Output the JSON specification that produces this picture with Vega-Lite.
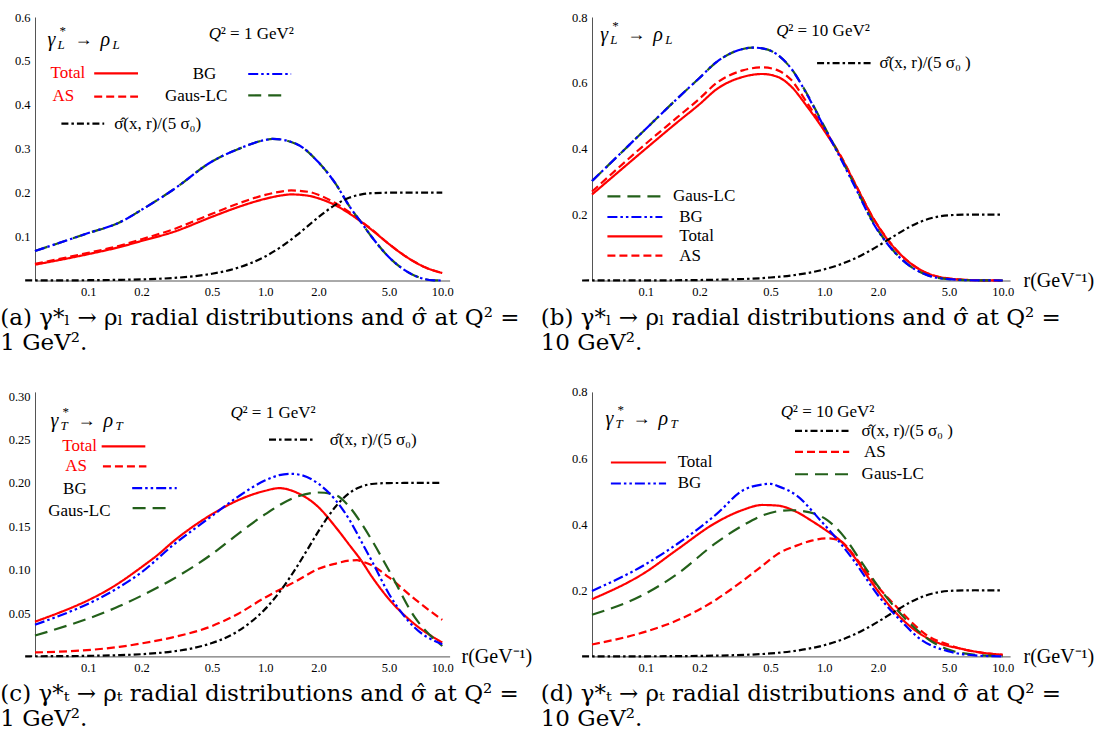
{
  "$schema": "https://vega.github.io/schema/vega-lite/v6.json",
  "autosize": {"type": "pad"},
  "padding": {"left": 0, "top": 11, "right": 0, "bottom": 0},
  "background": "white",
  "columns": 2,
  "spacing": {"row": 110.9, "column": 142},
  "bounds": "flush",
  "align": "each",
  "config": {
    "view": {"stroke": null},
    "legend": {"disable": true},
    "text": {"font": "Liberation Serif", "align": "left", "baseline": "alphabetic", "color": "black"},
    "axis": {"grid": false, "tickSize": 0, "labelFont": "Liberation Serif", "labelFontSize": 12.5, "labelColor": "black", "domainColor": "#555", "tickColor": "#555", "labelPadding": 5, "labelOverlap": false, "labelFlush": false, "labelBound": false, "title": null}
  },
  "datasets": {
    "a": [
      {"series":"Total","r":0.05,"value":0.036},{"series":"Total","r":0.1,"value":0.060},{"series":"Total","r":0.15,"value":0.076},{"series":"Total","r":0.2,"value":0.090},{"series":"Total","r":0.3,"value":0.110},{"series":"Total","r":0.5,"value":0.145},{"series":"Total","r":0.7,"value":0.167},{"series":"Total","r":1,"value":0.186},{"series":"Total","r":1.25,"value":0.194},{"series":"Total","r":1.4,"value":0.196},{"series":"Total","r":1.75,"value":0.193},{"series":"Total","r":2,"value":0.187},{"series":"Total","r":2.5,"value":0.171},{"series":"Total","r":3,"value":0.152},{"series":"Total","r":3.5,"value":0.133},{"series":"Total","r":4,"value":0.115},{"series":"Total","r":5,"value":0.083},{"series":"Total","r":6,"value":0.059},{"series":"Total","r":7,"value":0.042},{"series":"Total","r":8,"value":0.030},{"series":"Total","r":10,"value":0.017},
      {"series":"AS","r":0.05,"value":0.038},{"series":"AS","r":0.1,"value":0.063},{"series":"AS","r":0.15,"value":0.079},{"series":"AS","r":0.2,"value":0.094},{"series":"AS","r":0.3,"value":0.116},{"series":"AS","r":0.5,"value":0.152},{"series":"AS","r":0.7,"value":0.175},{"series":"AS","r":1,"value":0.195},{"series":"AS","r":1.25,"value":0.203},{"series":"AS","r":1.4,"value":0.205},{"series":"AS","r":1.75,"value":0.202},{"series":"AS","r":2,"value":0.195},{"series":"AS","r":2.5,"value":0.176},{"series":"AS","r":3,"value":0.155},{"series":"AS","r":3.5,"value":0.134},{"series":"AS","r":4,"value":0.116},{"series":"AS","r":5,"value":0.083},{"series":"AS","r":6,"value":0.059},{"series":"AS","r":7,"value":0.042},{"series":"AS","r":8,"value":0.030},{"series":"AS","r":10,"value":0.017},
      {"series":"Gaus-LC","r":0.05,"value":0.067},{"series":"Gaus-LC","r":0.1,"value":0.108},{"series":"Gaus-LC","r":0.15,"value":0.132},{"series":"Gaus-LC","r":0.2,"value":0.161},{"series":"Gaus-LC","r":0.3,"value":0.206},{"series":"Gaus-LC","r":0.5,"value":0.271},{"series":"Gaus-LC","r":0.7,"value":0.299},{"series":"Gaus-LC","r":1,"value":0.320},{"series":"Gaus-LC","r":1.1,"value":0.3226},{"series":"Gaus-LC","r":1.5,"value":0.311},{"series":"Gaus-LC","r":2,"value":0.269},{"series":"Gaus-LC","r":2.5,"value":0.220},{"series":"Gaus-LC","r":3,"value":0.168},{"series":"Gaus-LC","r":3.5,"value":0.131},{"series":"Gaus-LC","r":4,"value":0.099},{"series":"Gaus-LC","r":5,"value":0.053},{"series":"Gaus-LC","r":6,"value":0.026},{"series":"Gaus-LC","r":7,"value":0.011},{"series":"Gaus-LC","r":8,"value":0.003},{"series":"Gaus-LC","r":9,"value":0.0005},{"series":"Gaus-LC","r":10,"value":0.0},
      {"series":"BG","r":0.05,"value":0.067},{"series":"BG","r":0.1,"value":0.108},{"series":"BG","r":0.15,"value":0.132},{"series":"BG","r":0.2,"value":0.161},{"series":"BG","r":0.3,"value":0.206},{"series":"BG","r":0.5,"value":0.271},{"series":"BG","r":0.7,"value":0.299},{"series":"BG","r":1,"value":0.320},{"series":"BG","r":1.1,"value":0.3226},{"series":"BG","r":1.5,"value":0.311},{"series":"BG","r":2,"value":0.269},{"series":"BG","r":2.5,"value":0.220},{"series":"BG","r":3,"value":0.168},{"series":"BG","r":3.5,"value":0.131},{"series":"BG","r":4,"value":0.099},{"series":"BG","r":5,"value":0.053},{"series":"BG","r":6,"value":0.026},{"series":"BG","r":7,"value":0.011},{"series":"BG","r":8,"value":0.003},{"series":"BG","r":9,"value":0.0005},{"series":"BG","r":10,"value":0.0},
      {"series":"sigma","r":0.044,"value":0.00012},{"series":"sigma","r":0.05,"value":0.00016},{"series":"sigma","r":0.1,"value":0.00064},{"series":"sigma","r":0.15,"value":0.00144},{"series":"sigma","r":0.2,"value":0.00254},{"series":"sigma","r":0.3,"value":0.00568},{"series":"sigma","r":0.4,"value":0.00998},{"series":"sigma","r":0.5,"value":0.01538},{"series":"sigma","r":0.7,"value":0.0290},{"series":"sigma","r":1,"value":0.0548},{"series":"sigma","r":1.25,"value":0.0787},{"series":"sigma","r":1.5,"value":0.1026},{"series":"sigma","r":1.75,"value":0.1249},{"series":"sigma","r":2,"value":0.1444},{"series":"sigma","r":2.5,"value":0.1729},{"series":"sigma","r":3,"value":0.1888},{"series":"sigma","r":3.5,"value":0.1960},{"series":"sigma","r":4,"value":0.1988},{"series":"sigma","r":5,"value":0.1999},{"series":"sigma","r":7,"value":0.2},{"series":"sigma","r":10,"value":0.2}
    ],
    "b": [
      {"series":"Total","r":0.05,"value":0.261},{"series":"Total","r":0.1,"value":0.40},{"series":"Total","r":0.15,"value":0.48},{"series":"Total","r":0.2,"value":0.535},{"series":"Total","r":0.25,"value":0.581},{"series":"Total","r":0.35,"value":0.618},{"series":"Total","r":0.45,"value":0.627},{"series":"Total","r":0.55,"value":0.618},{"series":"Total","r":0.65,"value":0.59},{"series":"Total","r":0.8,"value":0.529},{"series":"Total","r":1,"value":0.455},{"series":"Total","r":1.25,"value":0.372},{"series":"Total","r":1.5,"value":0.29},{"series":"Total","r":1.9,"value":0.185},{"series":"Total","r":2.35,"value":0.113},{"series":"Total","r":3,"value":0.055},{"series":"Total","r":3.75,"value":0.023},{"series":"Total","r":5,"value":0.006},{"series":"Total","r":7,"value":0.001},{"series":"Total","r":10,"value":0.0},
      {"series":"AS","r":0.05,"value":0.27},{"series":"AS","r":0.1,"value":0.415},{"series":"AS","r":0.15,"value":0.495},{"series":"AS","r":0.2,"value":0.552},{"series":"AS","r":0.25,"value":0.60},{"series":"AS","r":0.35,"value":0.638},{"series":"AS","r":0.45,"value":0.647},{"series":"AS","r":0.55,"value":0.638},{"series":"AS","r":0.65,"value":0.61},{"series":"AS","r":0.8,"value":0.54},{"series":"AS","r":1,"value":0.46},{"series":"AS","r":1.25,"value":0.374},{"series":"AS","r":1.5,"value":0.291},{"series":"AS","r":1.9,"value":0.186},{"series":"AS","r":2.35,"value":0.114},{"series":"AS","r":3,"value":0.055},{"series":"AS","r":3.75,"value":0.023},{"series":"AS","r":5,"value":0.006},{"series":"AS","r":7,"value":0.001},{"series":"AS","r":10,"value":0.0},
      {"series":"Gaus-LC","r":0.05,"value":0.302},{"series":"Gaus-LC","r":0.1,"value":0.46},{"series":"Gaus-LC","r":0.15,"value":0.552},{"series":"Gaus-LC","r":0.2,"value":0.615},{"series":"Gaus-LC","r":0.25,"value":0.664},{"series":"Gaus-LC","r":0.3,"value":0.690},{"series":"Gaus-LC","r":0.35,"value":0.703},{"series":"Gaus-LC","r":0.4,"value":0.707},{"series":"Gaus-LC","r":0.45,"value":0.705},{"series":"Gaus-LC","r":0.55,"value":0.685},{"series":"Gaus-LC","r":0.65,"value":0.645},{"series":"Gaus-LC","r":0.8,"value":0.567},{"series":"Gaus-LC","r":1,"value":0.468},{"series":"Gaus-LC","r":1.25,"value":0.368},{"series":"Gaus-LC","r":1.5,"value":0.283},{"series":"Gaus-LC","r":1.9,"value":0.172},{"series":"Gaus-LC","r":2.35,"value":0.101},{"series":"Gaus-LC","r":3,"value":0.045},{"series":"Gaus-LC","r":3.75,"value":0.017},{"series":"Gaus-LC","r":5,"value":0.004},{"series":"Gaus-LC","r":7,"value":0.0005},{"series":"Gaus-LC","r":10,"value":0.0},
      {"series":"BG","r":0.05,"value":0.302},{"series":"BG","r":0.1,"value":0.46},{"series":"BG","r":0.15,"value":0.552},{"series":"BG","r":0.2,"value":0.615},{"series":"BG","r":0.25,"value":0.664},{"series":"BG","r":0.3,"value":0.690},{"series":"BG","r":0.35,"value":0.703},{"series":"BG","r":0.4,"value":0.707},{"series":"BG","r":0.45,"value":0.705},{"series":"BG","r":0.55,"value":0.685},{"series":"BG","r":0.65,"value":0.645},{"series":"BG","r":0.8,"value":0.565},{"series":"BG","r":1,"value":0.465},{"series":"BG","r":1.25,"value":0.365},{"series":"BG","r":1.5,"value":0.28},{"series":"BG","r":1.9,"value":0.17},{"series":"BG","r":2.35,"value":0.10},{"series":"BG","r":3,"value":0.045},{"series":"BG","r":3.75,"value":0.017},{"series":"BG","r":5,"value":0.004},{"series":"BG","r":7,"value":0.0005},{"series":"BG","r":10,"value":0.0},
      {"series":"sigma","r":0.044,"value":0.00007},{"series":"sigma","r":0.05,"value":0.00009},{"series":"sigma","r":0.1,"value":0.00037},{"series":"sigma","r":0.2,"value":0.00147},{"series":"sigma","r":0.3,"value":0.0033},{"series":"sigma","r":0.5,"value":0.00904},{"series":"sigma","r":0.7,"value":0.01734},{"series":"sigma","r":1,"value":0.0338},{"series":"sigma","r":1.25,"value":0.0502},{"series":"sigma","r":1.5,"value":0.068},{"series":"sigma","r":1.75,"value":0.0865},{"series":"sigma","r":2,"value":0.1046},{"series":"sigma","r":2.5,"value":0.1371},{"series":"sigma","r":3,"value":0.1622},{"series":"sigma","r":3.5,"value":0.1793},{"series":"sigma","r":4,"value":0.1896},{"series":"sigma","r":5,"value":0.1980},{"series":"sigma","r":6,"value":0.1997},{"series":"sigma","r":7,"value":0.2},{"series":"sigma","r":10,"value":0.2}
    ],
    "c": [
      {"series":"Total","r":0.05,"value":0.040},{"series":"Total","r":0.15,"value":0.085},{"series":"Total","r":0.2,"value":0.103},{"series":"Total","r":0.25,"value":0.118},{"series":"Total","r":0.3,"value":0.132},{"series":"Total","r":0.5,"value":0.164},{"series":"Total","r":0.7,"value":0.180},{"series":"Total","r":1,"value":0.191},{"series":"Total","r":1.2,"value":0.194},{"series":"Total","r":1.5,"value":0.189},{"series":"Total","r":2,"value":0.172},{"series":"Total","r":2.5,"value":0.149},{"series":"Total","r":3,"value":0.128},{"series":"Total","r":3.5,"value":0.110},{"series":"Total","r":4,"value":0.092},{"series":"Total","r":5,"value":0.066},{"series":"Total","r":7,"value":0.037},{"series":"Total","r":10,"value":0.016},
      {"series":"AS","r":0.05,"value":0.0045},{"series":"AS","r":0.15,"value":0.011},{"series":"AS","r":0.2,"value":0.015},{"series":"AS","r":0.3,"value":0.022},{"series":"AS","r":0.5,"value":0.035},{"series":"AS","r":0.7,"value":0.049},{"series":"AS","r":1,"value":0.068},{"series":"AS","r":1.5,"value":0.087},{"series":"AS","r":2,"value":0.101},{"series":"AS","r":2.5,"value":0.107},{"series":"AS","r":3,"value":0.1105},{"series":"AS","r":3.3,"value":0.111},{"series":"AS","r":3.5,"value":0.1095},{"series":"AS","r":4,"value":0.105},{"series":"AS","r":5,"value":0.091},{"series":"AS","r":7,"value":0.066},{"series":"AS","r":10,"value":0.042},
      {"series":"Gaus-LC","r":0.05,"value":0.024},{"series":"Gaus-LC","r":0.15,"value":0.058},{"series":"Gaus-LC","r":0.2,"value":0.070},{"series":"Gaus-LC","r":0.3,"value":0.089},{"series":"Gaus-LC","r":0.5,"value":0.118},{"series":"Gaus-LC","r":0.7,"value":0.141},{"series":"Gaus-LC","r":1,"value":0.164},{"series":"Gaus-LC","r":1.5,"value":0.184},{"series":"Gaus-LC","r":2,"value":0.189},{"series":"Gaus-LC","r":2.5,"value":0.186},{"series":"Gaus-LC","r":3,"value":0.172},{"series":"Gaus-LC","r":3.5,"value":0.153},{"series":"Gaus-LC","r":4,"value":0.134},{"series":"Gaus-LC","r":5,"value":0.099},{"series":"Gaus-LC","r":7,"value":0.045},{"series":"Gaus-LC","r":10,"value":0.012},
      {"series":"BG","r":0.05,"value":0.0365},{"series":"BG","r":0.15,"value":0.080},{"series":"BG","r":0.2,"value":0.097},{"series":"BG","r":0.3,"value":0.128},{"series":"BG","r":0.5,"value":0.162},{"series":"BG","r":0.7,"value":0.184},{"series":"BG","r":1,"value":0.203},{"series":"BG","r":1.2,"value":0.209},{"series":"BG","r":1.4,"value":0.2105},{"series":"BG","r":1.6,"value":0.209},{"series":"BG","r":2,"value":0.199},{"series":"BG","r":2.5,"value":0.180},{"series":"BG","r":3,"value":0.157},{"series":"BG","r":3.5,"value":0.132},{"series":"BG","r":4,"value":0.110},{"series":"BG","r":5,"value":0.072},{"series":"BG","r":7,"value":0.033},{"series":"BG","r":10,"value":0.014},
      {"series":"sigma","r":0.044,"value":0.00012},{"series":"sigma","r":0.05,"value":0.00016},{"series":"sigma","r":0.1,"value":0.00064},{"series":"sigma","r":0.15,"value":0.00144},{"series":"sigma","r":0.2,"value":0.00254},{"series":"sigma","r":0.3,"value":0.00568},{"series":"sigma","r":0.4,"value":0.00998},{"series":"sigma","r":0.5,"value":0.01538},{"series":"sigma","r":0.7,"value":0.0290},{"series":"sigma","r":1,"value":0.0548},{"series":"sigma","r":1.25,"value":0.0787},{"series":"sigma","r":1.5,"value":0.1026},{"series":"sigma","r":1.75,"value":0.1249},{"series":"sigma","r":2,"value":0.1444},{"series":"sigma","r":2.5,"value":0.1729},{"series":"sigma","r":3,"value":0.1888},{"series":"sigma","r":3.5,"value":0.1960},{"series":"sigma","r":4,"value":0.1988},{"series":"sigma","r":5,"value":0.1999},{"series":"sigma","r":7,"value":0.2},{"series":"sigma","r":10,"value":0.2}
    ],
    "d": [
      {"series":"Total","r":0.05,"value":0.173},{"series":"Total","r":0.1,"value":0.255},{"series":"Total","r":0.15,"value":0.323},{"series":"Total","r":0.25,"value":0.406},{"series":"Total","r":0.35,"value":0.443},{"series":"Total","r":0.45,"value":0.458},{"series":"Total","r":0.55,"value":0.456},{"series":"Total","r":0.7,"value":0.437},{"series":"Total","r":0.85,"value":0.41},{"series":"Total","r":1,"value":0.385},{"series":"Total","r":1.28,"value":0.341},{"series":"Total","r":1.5,"value":0.295},{"series":"Total","r":1.81,"value":0.23},{"series":"Total","r":2.44,"value":0.14},{"series":"Total","r":3.43,"value":0.069},{"series":"Total","r":4.5,"value":0.038},{"series":"Total","r":5.75,"value":0.024},{"series":"Total","r":7.5,"value":0.012},{"series":"Total","r":10,"value":0.005},
      {"series":"AS","r":0.05,"value":0.036},{"series":"AS","r":0.1,"value":0.075},{"series":"AS","r":0.15,"value":0.109},{"series":"AS","r":0.25,"value":0.173},{"series":"AS","r":0.35,"value":0.229},{"series":"AS","r":0.45,"value":0.274},{"series":"AS","r":0.55,"value":0.310},{"series":"AS","r":0.7,"value":0.335},{"series":"AS","r":0.85,"value":0.35},{"series":"AS","r":1.05,"value":0.357},{"series":"AS","r":1.2,"value":0.352},{"series":"AS","r":1.59,"value":0.281},{"series":"AS","r":2,"value":0.21},{"series":"AS","r":2.44,"value":0.160},{"series":"AS","r":3,"value":0.11},{"series":"AS","r":3.75,"value":0.064},{"series":"AS","r":5,"value":0.035},{"series":"AS","r":5.75,"value":0.024},{"series":"AS","r":7,"value":0.014},{"series":"AS","r":10,"value":0.005},
      {"series":"Gaus-LC","r":0.05,"value":0.126},{"series":"Gaus-LC","r":0.1,"value":0.19},{"series":"Gaus-LC","r":0.15,"value":0.249},{"series":"Gaus-LC","r":0.25,"value":0.345},{"series":"Gaus-LC","r":0.35,"value":0.396},{"series":"Gaus-LC","r":0.45,"value":0.426},{"series":"Gaus-LC","r":0.55,"value":0.439},{"series":"Gaus-LC","r":0.65,"value":0.442},{"series":"Gaus-LC","r":0.75,"value":0.44},{"series":"Gaus-LC","r":1.04,"value":0.412},{"series":"Gaus-LC","r":1.3,"value":0.36},{"series":"Gaus-LC","r":1.59,"value":0.291},{"series":"Gaus-LC","r":2.15,"value":0.19},{"series":"Gaus-LC","r":3.02,"value":0.10},{"series":"Gaus-LC","r":4,"value":0.045},{"series":"Gaus-LC","r":5,"value":0.02},{"series":"Gaus-LC","r":7,"value":0.005},{"series":"Gaus-LC","r":10,"value":0.001},
      {"series":"BG","r":0.05,"value":0.198},{"series":"BG","r":0.1,"value":0.279},{"series":"BG","r":0.15,"value":0.340},{"series":"BG","r":0.25,"value":0.431},{"series":"BG","r":0.35,"value":0.502},{"series":"BG","r":0.45,"value":0.52},{"series":"BG","r":0.5,"value":0.522},{"series":"BG","r":0.55,"value":0.515},{"series":"BG","r":0.7,"value":0.487},{"series":"BG","r":0.95,"value":0.412},{"series":"BG","r":1.2,"value":0.35},{"series":"BG","r":1.46,"value":0.291},{"series":"BG","r":2,"value":0.185},{"series":"BG","r":2.66,"value":0.11},{"series":"BG","r":3.5,"value":0.05},{"series":"BG","r":5,"value":0.015},{"series":"BG","r":7,"value":0.003},{"series":"BG","r":10,"value":0.0},
      {"series":"sigma","r":0.044,"value":0.00007},{"series":"sigma","r":0.05,"value":0.00009},{"series":"sigma","r":0.1,"value":0.00037},{"series":"sigma","r":0.2,"value":0.00147},{"series":"sigma","r":0.3,"value":0.0033},{"series":"sigma","r":0.5,"value":0.00904},{"series":"sigma","r":0.7,"value":0.01734},{"series":"sigma","r":1,"value":0.0338},{"series":"sigma","r":1.25,"value":0.0502},{"series":"sigma","r":1.5,"value":0.068},{"series":"sigma","r":1.75,"value":0.0865},{"series":"sigma","r":2,"value":0.1046},{"series":"sigma","r":2.5,"value":0.1371},{"series":"sigma","r":3,"value":0.1622},{"series":"sigma","r":3.5,"value":0.1793},{"series":"sigma","r":4,"value":0.1896},{"series":"sigma","r":5,"value":0.1980},{"series":"sigma","r":6,"value":0.1997},{"series":"sigma","r":7,"value":0.2},{"series":"sigma","r":10,"value":0.2}
    ]
  },
  "concat": [
    {
      "width": 414.6, "height": 263.5,
      "title": {"text": ["(a) γ*ₗ → ρₗ radial distributions and σ̂ at Q² =", "1 GeV²."], "orient": "bottom", "anchor": "start", "frame": "group", "dx": -34.7, "offset": 9, "font": "DejaVu Serif", "fontSize": 23, "fontWeight": "normal", "lineHeight": 25, "color": "black", "baseline": "top"},
      "resolve": {"axis": {"y": "independent"}},
      "layer": [
        {
          "data": {"name": "a"},
          "mark": {"type": "line", "strokeWidth": 2.2, "interpolate": "monotone"},
          "encoding": {
            "x": {"field": "r", "type": "quantitative", "scale": {"type": "log", "domain": [0.05, 11], "nice": false},
              "axis": {"labelOverlap": false, "values": [0.06,0.07,0.08,0.09,0.1,0.2,0.3,0.4,0.5,0.6,0.7,0.8,0.9,1,2,3,4,5,6,7,8,9,10],
                "labelExpr": "indexof([0.1,0.2,0.5,1,2,5,10], datum.value) >= 0 ? format(datum.value, '.1f') : ''",
                "encode": {"ticks": {"update": {"y2": {"signal": "indexof([0.1,0.2,0.5,1,2,5,10], datum.value) >= 0 ? -5 : -3"}}}}}},
            "y": {"field": "value", "type": "quantitative", "scale": {"domain": [0, 0.6], "nice": false},
              "axis": {"orient": "left", "labelOverlap": false, "values": [0.1,0.2,0.3,0.4,0.5,0.6], "format": ".1f",
                "encode": {"ticks": {"update": {"x2": {"value": 5}}}}}},
            "color": {"field": "series", "type": "nominal", "scale": {"domain": ["Total","AS","BG","Gaus-LC","sigma"], "range": ["#ff0000","#ff0000","#0000ff","#23601a","#000000"]}},
            "strokeDash": {"field": "series", "type": "nominal", "scale": {"domain": ["Total","AS","BG","Gaus-LC","sigma"], "range": [[1,0],[8,4],[10,3,2.5,3,2.5,3],[13,7],[7,3,2.5,3]]}}
          }
        },
        {
          "data": {"values": [{}]},
          "layer": [
            {"encoding": {"x": {"datum": 0.0588}, "y": {"datum": 0.5346, "axis": {"orient": "left", "labels": false, "domain": false, "values": [0.02,0.04,0.06,0.08,0.12,0.14,0.16,0.18,0.22,0.24,0.26,0.28,0.32,0.34,0.36,0.38,0.42,0.44,0.46,0.48,0.52,0.54,0.56,0.58], "encode": {"ticks": {"update": {"x2": {"value": 3}}}}}}}, "layer": [
              {"mark": {"type": "text", "text": "γ", "fontSize": 20, "fontStyle": "italic"}},
              {"mark": {"type": "text", "text": "*", "fontSize": 13, "dx": 12, "dy": -11}},
              {"mark": {"type": "text", "text": "L", "fontSize": 13, "fontStyle": "italic", "dx": 10, "dy": 3}},
              {"mark": {"type": "text", "text": "→", "fontSize": 18, "dx": 27, "dy": -1}},
              {"mark": {"type": "text", "text": "ρ", "fontSize": 20, "fontStyle": "italic", "dx": 53}},
              {"mark": {"type": "text", "text": "L", "fontSize": 13, "fontStyle": "italic", "dx": 65, "dy": 3}}
            ]},
            {"encoding": {"x": {"datum": 0.479}, "y": {"datum": 0.5506}}, "layer": [
              {"mark": {"type": "text", "text": "Q", "fontSize": 17, "fontStyle": "italic"}},
              {"mark": {"type": "text", "text": "² = 1  GeV²", "fontSize": 17, "dx": 12}}
            ]},
            {"mark": {"type": "rule", "strokeWidth": 2.2}, "encoding": {"x": {"datum": 0.108}, "x2": {"datum": 0.191}, "y": {"datum": 0.4716}, "color": {"datum": "Total"}, "strokeDash": {"datum": "Total"}}},
            {"mark": {"type": "rule", "strokeWidth": 2.2}, "encoding": {"x": {"datum": 0.108}, "x2": {"datum": 0.191}, "y": {"datum": 0.4185}, "color": {"datum": "AS"}, "strokeDash": {"datum": "AS"}}},
            {"mark": {"type": "rule", "strokeWidth": 2.2}, "encoding": {"x": {"datum": 0.801}, "x2": {"datum": 1.40}, "y": {"datum": 0.4702}, "color": {"datum": "BG"}, "strokeDash": {"datum": "BG"}}},
            {"mark": {"type": "rule", "strokeWidth": 2.2}, "encoding": {"x": {"datum": 0.801}, "x2": {"datum": 1.33}, "y": {"datum": 0.4215}, "color": {"datum": "Gaus-LC"}, "strokeDash": {"datum": "Gaus-LC"}}},
            {"mark": {"type": "rule", "strokeWidth": 2.2}, "encoding": {"x": {"datum": 0.0705}, "x2": {"datum": 0.123}, "y": {"datum": 0.357}, "color": {"datum": "sigma"}, "strokeDash": {"datum": "sigma"}}},
            {"mark": {"type": "text", "text": "Total", "fontSize": 17, "align": "right", "baseline": "middle", "color": "#ff0000"}, "encoding": {"x": {"datum": 0.0962}, "y": {"datum": 0.4716}}},
            {"mark": {"type": "text", "text": "AS", "fontSize": 17, "align": "right", "baseline": "middle", "color": "#ff0000"}, "encoding": {"x": {"datum": 0.0834}, "y": {"datum": 0.4192}}},
            {"mark": {"type": "text", "text": "BG", "fontSize": 17, "baseline": "middle"}, "encoding": {"x": {"datum": 0.389}, "y": {"datum": 0.4702}}},
            {"mark": {"type": "text", "text": "Gaus-LC", "fontSize": 17, "baseline": "middle"}, "encoding": {"x": {"datum": 0.271}, "y": {"datum": 0.4192}}},
            {"mark": {"type": "text", "text": "σ̂(x, r)/(5 σ₀)", "fontSize": 17, "baseline": "middle"}, "encoding": {"x": {"datum": 0.140}, "y": {"datum": 0.357}}}
          ]
        }
      ]
    },
    {
      "width": 418.1, "height": 263.5,
      "title": {"text": ["(b) γ*ₗ → ρₗ radial distributions and σ̂ at Q² =", "10 GeV²."], "orient": "bottom", "anchor": "start", "frame": "group", "dx": -51.3, "offset": 9, "font": "DejaVu Serif", "fontSize": 23, "fontWeight": "normal", "lineHeight": 25, "color": "black", "baseline": "top"},
      "resolve": {"axis": {"y": "independent"}},
      "layer": [
        {
          "data": {"name": "b"},
          "mark": {"type": "line", "strokeWidth": 2.2, "interpolate": "monotone"},
          "encoding": {
            "x": {"field": "r", "type": "quantitative", "scale": {"type": "log", "domain": [0.05, 11], "nice": false},
              "axis": {"labelOverlap": false, "values": [0.06,0.07,0.08,0.09,0.1,0.2,0.3,0.4,0.5,0.6,0.7,0.8,0.9,1,2,3,4,5,6,7,8,9,10],
                "labelExpr": "indexof([0.1,0.2,0.5,1,2,5,10], datum.value) >= 0 ? format(datum.value, '.1f') : ''",
                "title": "r(GeV⁻¹)", "titleX": 431, "titleY": 0, "titleAlign": "left", "titleBaseline": "middle", "titleAngle": 0, "titleFont": "Liberation Serif", "titleFontSize": 20, "titleFontWeight": "normal", "titleColor": "black",
                "encode": {"ticks": {"update": {"y2": {"signal": "indexof([0.1,0.2,0.5,1,2,5,10], datum.value) >= 0 ? -5 : -3"}}}}}},
            "y": {"field": "value", "type": "quantitative", "scale": {"domain": [0, 0.8], "nice": false},
              "axis": {"orient": "left", "labelOverlap": false, "values": [0.2,0.4,0.6,0.8], "format": ".1f",
                "encode": {"ticks": {"update": {"x2": {"value": 5}}}}}},
            "color": {"field": "series", "type": "nominal", "scale": {"domain": ["Total","AS","BG","Gaus-LC","sigma"], "range": ["#ff0000","#ff0000","#0000ff","#23601a","#000000"]}},
            "strokeDash": {"field": "series", "type": "nominal", "scale": {"domain": ["Total","AS","BG","Gaus-LC","sigma"], "range": [[1,0],[8,4],[10,3,2.5,3,2.5,3],[13,7],[7,3,2.5,3]]}}
          }
        },
        {
          "data": {"values": [{}]},
          "layer": [
            {"encoding": {"x": {"datum": 0.0556}, "y": {"datum": 0.726, "axis": {"orient": "left", "labels": false, "domain": false, "values": [0.05,0.1,0.15,0.25,0.3,0.35,0.45,0.5,0.55,0.65,0.7,0.75], "encode": {"ticks": {"update": {"x2": {"value": 3}}}}}}}, "layer": [
              {"mark": {"type": "text", "text": "γ", "fontSize": 20, "fontStyle": "italic"}},
              {"mark": {"type": "text", "text": "*", "fontSize": 13, "dx": 12, "dy": -11}},
              {"mark": {"type": "text", "text": "L", "fontSize": 13, "fontStyle": "italic", "dx": 10, "dy": 3}},
              {"mark": {"type": "text", "text": "→", "fontSize": 18, "dx": 27, "dy": -1}},
              {"mark": {"type": "text", "text": "ρ", "fontSize": 20, "fontStyle": "italic", "dx": 53}},
              {"mark": {"type": "text", "text": "L", "fontSize": 13, "fontStyle": "italic", "dx": 65, "dy": 3}}
            ]},
            {"encoding": {"x": {"datum": 0.538}, "y": {"datum": 0.743}}, "layer": [
              {"mark": {"type": "text", "text": "Q", "fontSize": 17, "fontStyle": "italic"}},
              {"mark": {"type": "text", "text": "² = 10 GeV²", "fontSize": 17, "dx": 12}}
            ]},
            {"mark": {"type": "rule", "strokeWidth": 2.2}, "encoding": {"x": {"datum": 0.912}, "x2": {"datum": 1.82}, "y": {"datum": 0.660}, "color": {"datum": "sigma"}, "strokeDash": {"datum": "sigma"}}},
            {"mark": {"type": "rule", "strokeWidth": 2.2}, "encoding": {"x": {"datum": 0.061}, "x2": {"datum": 0.124}, "y": {"datum": 0.2553}, "color": {"datum": "Gaus-LC"}, "strokeDash": {"datum": "Gaus-LC"}}},
            {"mark": {"type": "rule", "strokeWidth": 2.2}, "encoding": {"x": {"datum": 0.061}, "x2": {"datum": 0.124}, "y": {"datum": 0.1928}, "color": {"datum": "BG"}, "strokeDash": {"datum": "BG"}}},
            {"mark": {"type": "rule", "strokeWidth": 2.2}, "encoding": {"x": {"datum": 0.061}, "x2": {"datum": 0.124}, "y": {"datum": 0.1339}, "color": {"datum": "Total"}, "strokeDash": {"datum": "Total"}}},
            {"mark": {"type": "rule", "strokeWidth": 2.2}, "encoding": {"x": {"datum": 0.061}, "x2": {"datum": 0.124}, "y": {"datum": 0.0753}, "color": {"datum": "AS"}, "strokeDash": {"datum": "AS"}}},
            {"mark": {"type": "text", "text": "σ̂(x, r)/(5 σ₀ )", "fontSize": 17, "baseline": "middle"}, "encoding": {"x": {"datum": 2.04}, "y": {"datum": 0.660}}},
            {"mark": {"type": "text", "text": "Gaus-LC", "fontSize": 17, "baseline": "middle"}, "encoding": {"x": {"datum": 0.142}, "y": {"datum": 0.2553}}},
            {"mark": {"type": "text", "text": "BG", "fontSize": 17, "baseline": "middle"}, "encoding": {"x": {"datum": 0.154}, "y": {"datum": 0.1928}}},
            {"mark": {"type": "text", "text": "Total", "fontSize": 17, "baseline": "middle"}, "encoding": {"x": {"datum": 0.154}, "y": {"datum": 0.1339}}},
            {"mark": {"type": "text", "text": "AS", "fontSize": 17, "baseline": "middle"}, "encoding": {"x": {"datum": 0.154}, "y": {"datum": 0.0753}}}
          ]
        }
      ]
    },
    {
      "width": 414.6, "height": 264.5,
      "title": {"text": ["(c) γ*ₜ → ρₜ radial distributions and σ̂ at Q² =", "1 GeV²."], "orient": "bottom", "anchor": "start", "frame": "group", "dx": -34.7, "offset": 9, "font": "DejaVu Serif", "fontSize": 23, "fontWeight": "normal", "lineHeight": 25, "color": "black", "baseline": "top"},
      "resolve": {"axis": {"y": "independent"}},
      "layer": [
        {
          "data": {"name": "c"},
          "mark": {"type": "line", "strokeWidth": 2.2, "interpolate": "monotone"},
          "encoding": {
            "x": {"field": "r", "type": "quantitative", "scale": {"type": "log", "domain": [0.05, 11], "nice": false},
              "axis": {"labelOverlap": false, "values": [0.06,0.07,0.08,0.09,0.1,0.2,0.3,0.4,0.5,0.6,0.7,0.8,0.9,1,2,3,4,5,6,7,8,9,10],
                "labelExpr": "indexof([0.1,0.2,0.5,1,2,5,10], datum.value) >= 0 ? format(datum.value, '.1f') : ''",
                "title": "r(GeV⁻¹)", "titleX": 426, "titleY": 0, "titleAlign": "left", "titleBaseline": "middle", "titleAngle": 0, "titleFont": "Liberation Serif", "titleFontSize": 20, "titleFontWeight": "normal", "titleColor": "black",
                "encode": {"ticks": {"update": {"y2": {"signal": "indexof([0.1,0.2,0.5,1,2,5,10], datum.value) >= 0 ? -5 : -3"}}}}}},
            "y": {"field": "value", "type": "quantitative", "scale": {"domain": [0, 0.305], "nice": false},
              "axis": {"orient": "left", "labelOverlap": false, "values": [0.05,0.1,0.15,0.2,0.25,0.3], "format": ".2f",
                "encode": {"ticks": {"update": {"x2": {"value": 5}}}}}},
            "color": {"field": "series", "type": "nominal", "scale": {"domain": ["Total","AS","BG","Gaus-LC","sigma"], "range": ["#ff0000","#ff0000","#0000ff","#23601a","#000000"]}},
            "strokeDash": {"field": "series", "type": "nominal", "scale": {"domain": ["Total","AS","BG","Gaus-LC","sigma"], "range": [[1,0],[8,4],[10,3,2.5,3,2.5,3],[13,7],[7,3,2.5,3]]}}
          }
        },
        {
          "data": {"values": [{}]},
          "layer": [
            {"encoding": {"x": {"datum": 0.0612}, "y": {"datum": 0.264, "axis": {"orient": "left", "labels": false, "domain": false, "values": [0.01,0.02,0.03,0.04,0.06,0.07,0.08,0.09,0.11,0.12,0.13,0.14,0.16,0.17,0.18,0.19,0.21,0.22,0.23,0.24,0.26,0.27,0.28,0.29], "encode": {"ticks": {"update": {"x2": {"value": 3}}}}}}}, "layer": [
              {"mark": {"type": "text", "text": "γ", "fontSize": 20, "fontStyle": "italic"}},
              {"mark": {"type": "text", "text": "*", "fontSize": 13, "dx": 12, "dy": -11}},
              {"mark": {"type": "text", "text": "T", "fontSize": 13, "fontStyle": "italic", "dx": 10, "dy": 3}},
              {"mark": {"type": "text", "text": "→", "fontSize": 18, "dx": 27, "dy": -1}},
              {"mark": {"type": "text", "text": "ρ", "fontSize": 20, "fontStyle": "italic", "dx": 53}},
              {"mark": {"type": "text", "text": "T", "fontSize": 13, "fontStyle": "italic", "dx": 65, "dy": 3}}
            ]},
            {"encoding": {"x": {"datum": 0.636}, "y": {"datum": 0.2754}}, "layer": [
              {"mark": {"type": "text", "text": "Q", "fontSize": 17, "fontStyle": "italic"}},
              {"mark": {"type": "text", "text": "² = 1  GeV²", "fontSize": 17, "dx": 12}}
            ]},
            {"mark": {"type": "rule", "strokeWidth": 2.2}, "encoding": {"x": {"datum": 0.119}, "x2": {"datum": 0.210}, "y": {"datum": 0.2422}, "color": {"datum": "Total"}, "strokeDash": {"datum": "Total"}}},
            {"mark": {"type": "rule", "strokeWidth": 2.2}, "encoding": {"x": {"datum": 0.121}, "x2": {"datum": 0.213}, "y": {"datum": 0.2191}, "color": {"datum": "AS"}, "strokeDash": {"datum": "AS"}}},
            {"mark": {"type": "rule", "strokeWidth": 2.2}, "encoding": {"x": {"datum": 0.177}, "x2": {"datum": 0.316}, "y": {"datum": 0.194}, "color": {"datum": "BG"}, "strokeDash": {"datum": "BG"}}},
            {"mark": {"type": "rule", "strokeWidth": 2.2}, "encoding": {"x": {"datum": 0.178}, "x2": {"datum": 0.296}, "y": {"datum": 0.171}, "color": {"datum": "Gaus-LC"}, "strokeDash": {"datum": "Gaus-LC"}}},
            {"mark": {"type": "rule", "strokeWidth": 2.2}, "encoding": {"x": {"datum": 1.05}, "x2": {"datum": 1.86}, "y": {"datum": 0.25}, "color": {"datum": "sigma"}, "strokeDash": {"datum": "sigma"}}},
            {"mark": {"type": "text", "text": "Total", "fontSize": 17, "align": "right", "baseline": "middle", "color": "#ff0000"}, "encoding": {"x": {"datum": 0.112}, "y": {"datum": 0.2422}}},
            {"mark": {"type": "text", "text": "AS", "fontSize": 17, "align": "right", "baseline": "middle", "color": "#ff0000"}, "encoding": {"x": {"datum": 0.0982}, "y": {"datum": 0.2191}}},
            {"mark": {"type": "text", "text": "BG", "fontSize": 17, "align": "right", "baseline": "middle"}, "encoding": {"x": {"datum": 0.098}, "y": {"datum": 0.1933}}},
            {"mark": {"type": "text", "text": "Gaus-LC", "fontSize": 17, "align": "right", "baseline": "middle"}, "encoding": {"x": {"datum": 0.1335}, "y": {"datum": 0.1675}}},
            {"mark": {"type": "text", "text": "σ̂(x, r)/(5 σ₀)", "fontSize": 17, "baseline": "middle"}, "encoding": {"x": {"datum": 2.31}, "y": {"datum": 0.25}}}
          ]
        }
      ]
    },
    {
      "width": 418.1, "height": 264.5,
      "title": {"text": ["(d) γ*ₜ → ρₜ radial distributions and σ̂ at Q² =", "10 GeV²."], "orient": "bottom", "anchor": "start", "frame": "group", "dx": -51.3, "offset": 9, "font": "DejaVu Serif", "fontSize": 23, "fontWeight": "normal", "lineHeight": 25, "color": "black", "baseline": "top"},
      "resolve": {"axis": {"y": "independent"}},
      "layer": [
        {
          "data": {"name": "d"},
          "mark": {"type": "line", "strokeWidth": 2.2, "interpolate": "monotone"},
          "encoding": {
            "x": {"field": "r", "type": "quantitative", "scale": {"type": "log", "domain": [0.05, 11], "nice": false},
              "axis": {"labelOverlap": false, "values": [0.06,0.07,0.08,0.09,0.1,0.2,0.3,0.4,0.5,0.6,0.7,0.8,0.9,1,2,3,4,5,6,7,8,9,10],
                "labelExpr": "indexof([0.1,0.2,0.5,1,2,5,10], datum.value) >= 0 ? format(datum.value, '.1f') : ''",
                "title": "r(GeV⁻¹)", "titleX": 431, "titleY": 0, "titleAlign": "left", "titleBaseline": "middle", "titleAngle": 0, "titleFont": "Liberation Serif", "titleFontSize": 20, "titleFontWeight": "normal", "titleColor": "black",
                "encode": {"ticks": {"update": {"y2": {"signal": "indexof([0.1,0.2,0.5,1,2,5,10], datum.value) >= 0 ? -5 : -3"}}}}}},
            "y": {"field": "value", "type": "quantitative", "scale": {"domain": [0, 0.8], "nice": false},
              "axis": {"orient": "left", "labelOverlap": false, "values": [0.2,0.4,0.6,0.8], "format": ".1f",
                "encode": {"ticks": {"update": {"x2": {"value": 5}}}}}},
            "color": {"field": "series", "type": "nominal", "scale": {"domain": ["Total","AS","BG","Gaus-LC","sigma"], "range": ["#ff0000","#ff0000","#0000ff","#23601a","#000000"]}},
            "strokeDash": {"field": "series", "type": "nominal", "scale": {"domain": ["Total","AS","BG","Gaus-LC","sigma"], "range": [[1,0],[8,4],[10,3,2.5,3,2.5,3],[13,7],[7,3,2.5,3]]}}
          }
        },
        {
          "data": {"values": [{}]},
          "layer": [
            {"encoding": {"x": {"datum": 0.0596}, "y": {"datum": 0.699, "axis": {"orient": "left", "labels": false, "domain": false, "values": [0.05,0.1,0.15,0.25,0.3,0.35,0.45,0.5,0.55,0.65,0.7,0.75], "encode": {"ticks": {"update": {"x2": {"value": 3}}}}}}}, "layer": [
              {"mark": {"type": "text", "text": "γ", "fontSize": 20, "fontStyle": "italic"}},
              {"mark": {"type": "text", "text": "*", "fontSize": 13, "dx": 12, "dy": -11}},
              {"mark": {"type": "text", "text": "T", "fontSize": 13, "fontStyle": "italic", "dx": 10, "dy": 3}},
              {"mark": {"type": "text", "text": "→", "fontSize": 18, "dx": 27, "dy": -1}},
              {"mark": {"type": "text", "text": "ρ", "fontSize": 20, "fontStyle": "italic", "dx": 53}},
              {"mark": {"type": "text", "text": "T", "fontSize": 13, "fontStyle": "italic", "dx": 65, "dy": 3}}
            ]},
            {"encoding": {"x": {"datum": 0.571}, "y": {"datum": 0.7245}}, "layer": [
              {"mark": {"type": "text", "text": "Q", "fontSize": 17, "fontStyle": "italic"}},
              {"mark": {"type": "text", "text": "² = 10 GeV²", "fontSize": 17, "dx": 12}}
            ]},
            {"mark": {"type": "rule", "strokeWidth": 2.2}, "encoding": {"x": {"datum": 0.686}, "x2": {"datum": 1.38}, "y": {"datum": 0.682}, "color": {"datum": "sigma"}, "strokeDash": {"datum": "sigma"}}},
            {"mark": {"type": "rule", "strokeWidth": 2.2}, "encoding": {"x": {"datum": 0.686}, "x2": {"datum": 1.38}, "y": {"datum": 0.6186}, "color": {"datum": "AS"}, "strokeDash": {"datum": "AS"}}},
            {"mark": {"type": "rule", "strokeWidth": 2.2}, "encoding": {"x": {"datum": 0.686}, "x2": {"datum": 1.38}, "y": {"datum": 0.551}, "color": {"datum": "Gaus-LC"}, "strokeDash": {"datum": "Gaus-LC"}}},
            {"mark": {"type": "rule", "strokeWidth": 2.2}, "encoding": {"x": {"datum": 0.0638}, "x2": {"datum": 0.130}, "y": {"datum": 0.5865}, "color": {"datum": "Total"}, "strokeDash": {"datum": "Total"}}},
            {"mark": {"type": "rule", "strokeWidth": 2.2}, "encoding": {"x": {"datum": 0.0638}, "x2": {"datum": 0.130}, "y": {"datum": 0.523}, "color": {"datum": "BG"}, "strokeDash": {"datum": "BG"}}},
            {"mark": {"type": "text", "text": "σ̂(x, r)/(5 σ₀ )", "fontSize": 17, "baseline": "middle"}, "encoding": {"x": {"datum": 1.62}, "y": {"datum": 0.682}}},
            {"mark": {"type": "text", "text": "AS", "fontSize": 17, "baseline": "middle"}, "encoding": {"x": {"datum": 1.67}, "y": {"datum": 0.6186}}},
            {"mark": {"type": "text", "text": "Gaus-LC", "fontSize": 17, "baseline": "middle"}, "encoding": {"x": {"datum": 1.62}, "y": {"datum": 0.551}}},
            {"mark": {"type": "text", "text": "Total", "fontSize": 17, "baseline": "middle"}, "encoding": {"x": {"datum": 0.151}, "y": {"datum": 0.5865}}},
            {"mark": {"type": "text", "text": "BG", "fontSize": 17, "baseline": "middle"}, "encoding": {"x": {"datum": 0.151}, "y": {"datum": 0.523}}}
          ]
        }
      ]
    }
  ]
}
